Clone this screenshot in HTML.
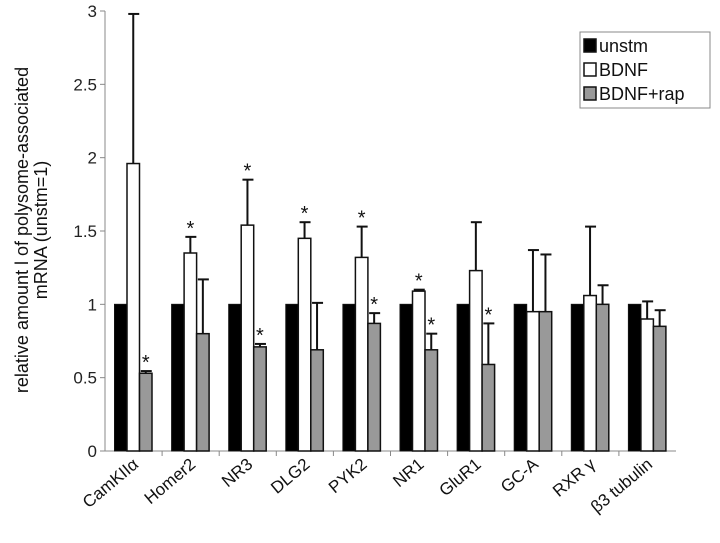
<!DOCTYPE html>
<html><head><meta charset="utf-8"><style>
body{margin:0;background:#fff;width:720px;height:538px;overflow:hidden}
svg{font-family:"Liberation Sans",sans-serif}
</style></head><body>
<svg id="chart" width="720" height="538" xmlns="http://www.w3.org/2000/svg"></svg>
<script>
const categories=["CamKIIα","Homer2","NR3","DLG2","PYK2","NR1","GluR1","GC-A","RXR γ","β3 tubulin"];
const unstm=[1,1,1,1,1,1,1,1,1,1];
const bdnf=[1.96,1.35,1.54,1.45,1.32,1.09,1.23,0.95,1.06,0.9];
const bdnfErr=[2.98,1.46,1.85,1.56,1.53,1.10,1.56,1.37,1.53,1.02];
const rap=[0.53,0.8,0.71,0.69,0.87,0.69,0.59,0.95,1.0,0.85];
const rapErr=[0.545,1.17,0.73,1.01,0.94,0.80,0.87,1.34,1.13,0.96];
const bdnfStar=[false,true,true,true,true,true,false,false,false,false];
const rapStar=[true,false,true,false,true,true,true,false,false,false];
const yTicks=["0","0.5","1","1.5","2","2.5","3"];

const svg=document.getElementById('chart');
const NS='http://www.w3.org/2000/svg';
const X0=105,X1=676,Y0=451,Y3=11;
const gw=(X1-X0)/categories.length;
function y(v){return Y0-(Y0-Y3)*v/3;}
function gx(i){return X0+gw*i;}
function mk(t,a,txt){const e=document.createElementNS(NS,t);for(const k in a)e.setAttribute(k,a[k]);if(txt!=null)e.textContent=txt;svg.appendChild(e);return e;}

// axes
let e=mk('line',{x1:X0,y1:Y3,x2:X0,y2:Y0,stroke:'#888','stroke-width':1});


e=mk('line',{x1:X0,y1:Y0,x2:X1,y2:Y0,stroke:'#888','stroke-width':1});


yTicks.forEach(t=>{const v=parseFloat(t);
  mk('line',{x1:X0-5,y1:y(v),x2:X0,y2:y(v),stroke:'#888'});
  const l=mk('text',{x:97,y:y(v)+6,'text-anchor':'end','font-size':17,fill:'#222'},t);
  
  
});
for(let i=1;i<categories.length;i++)mk('line',{x1:gx(i),y1:Y0,x2:gx(i),y2:Y0+5,stroke:'#888'});

const t1=mk('text',{transform:'translate(28,230) rotate(-90)','text-anchor':'middle','font-size':18,fill:'#111'},'relative amount l of polysome-associated');


const t2=mk('text',{transform:'translate(47,230) rotate(-90)','text-anchor':'middle','font-size':18,fill:'#111'},'mRNA (unstm=1)');



const bw=12.5;
function err(cx,top,val){
  mk('line',{x1:cx,y1:y(val),x2:cx,y2:y(top),stroke:'#111','stroke-width':2});
  mk('line',{x1:cx-5,y1:y(top),x2:cx+6,y2:y(top),stroke:'#111','stroke-width':2});
}
function star(cx,top){
  const s=mk('text',{x:cx,y:y(top)-2,'text-anchor':'middle','font-size':20,fill:'#111'},'*');
  
  
}
categories.forEach((c,i)=>{
  const b=gx(i)+9.5;
  let r=mk('rect',{x:b,y:y(unstm[i]),width:bw,height:Y0-y(unstm[i]),fill:'#000',stroke:'#111','stroke-width':1});
  
  
  if(bdnfErr[i]>bdnf[i])err(b+bw*1.5,bdnfErr[i],bdnf[i]);
  r=mk('rect',{x:b+bw,y:y(bdnf[i]),width:bw,height:Y0-y(bdnf[i]),fill:'#fff',stroke:'#111','stroke-width':1.5});
  
  
  err(b+bw*2.5,rapErr[i],rap[i]);
  r=mk('rect',{x:b+bw*2,y:y(rap[i]),width:bw,height:Y0-y(rap[i]),fill:'#999',stroke:'#111','stroke-width':1.5});
  
  
  if(bdnfStar[i])star(b+bw*1.5,bdnfErr[i]);
  if(rapStar[i])star(b+bw*2.5,rapErr[i]);
  const cx=gx(i)+gw/2+6;
  const l=mk('text',{transform:`translate(${cx},466) rotate(-40)`,'text-anchor':'end','font-size':17,fill:'#111'},c);
  
  
});

// legend
const lg=mk('rect',{x:580,y:32,width:130,height:76,fill:'#fff',stroke:'#888'});


[['unstm','#000'],['BDNF','#fff'],['BDNF+rap','#999']].forEach((d,k)=>{
  const yy=45+k*24;
  mk('rect',{x:584,y:yy-6,width:12,height:13,fill:d[1],stroke:'#111','stroke-width':1.5});
  const t=mk('text',{x:599,y:yy+7,'font-size':18,fill:'#111'},d[0]);
  
  
});
</script>
</body></html>
